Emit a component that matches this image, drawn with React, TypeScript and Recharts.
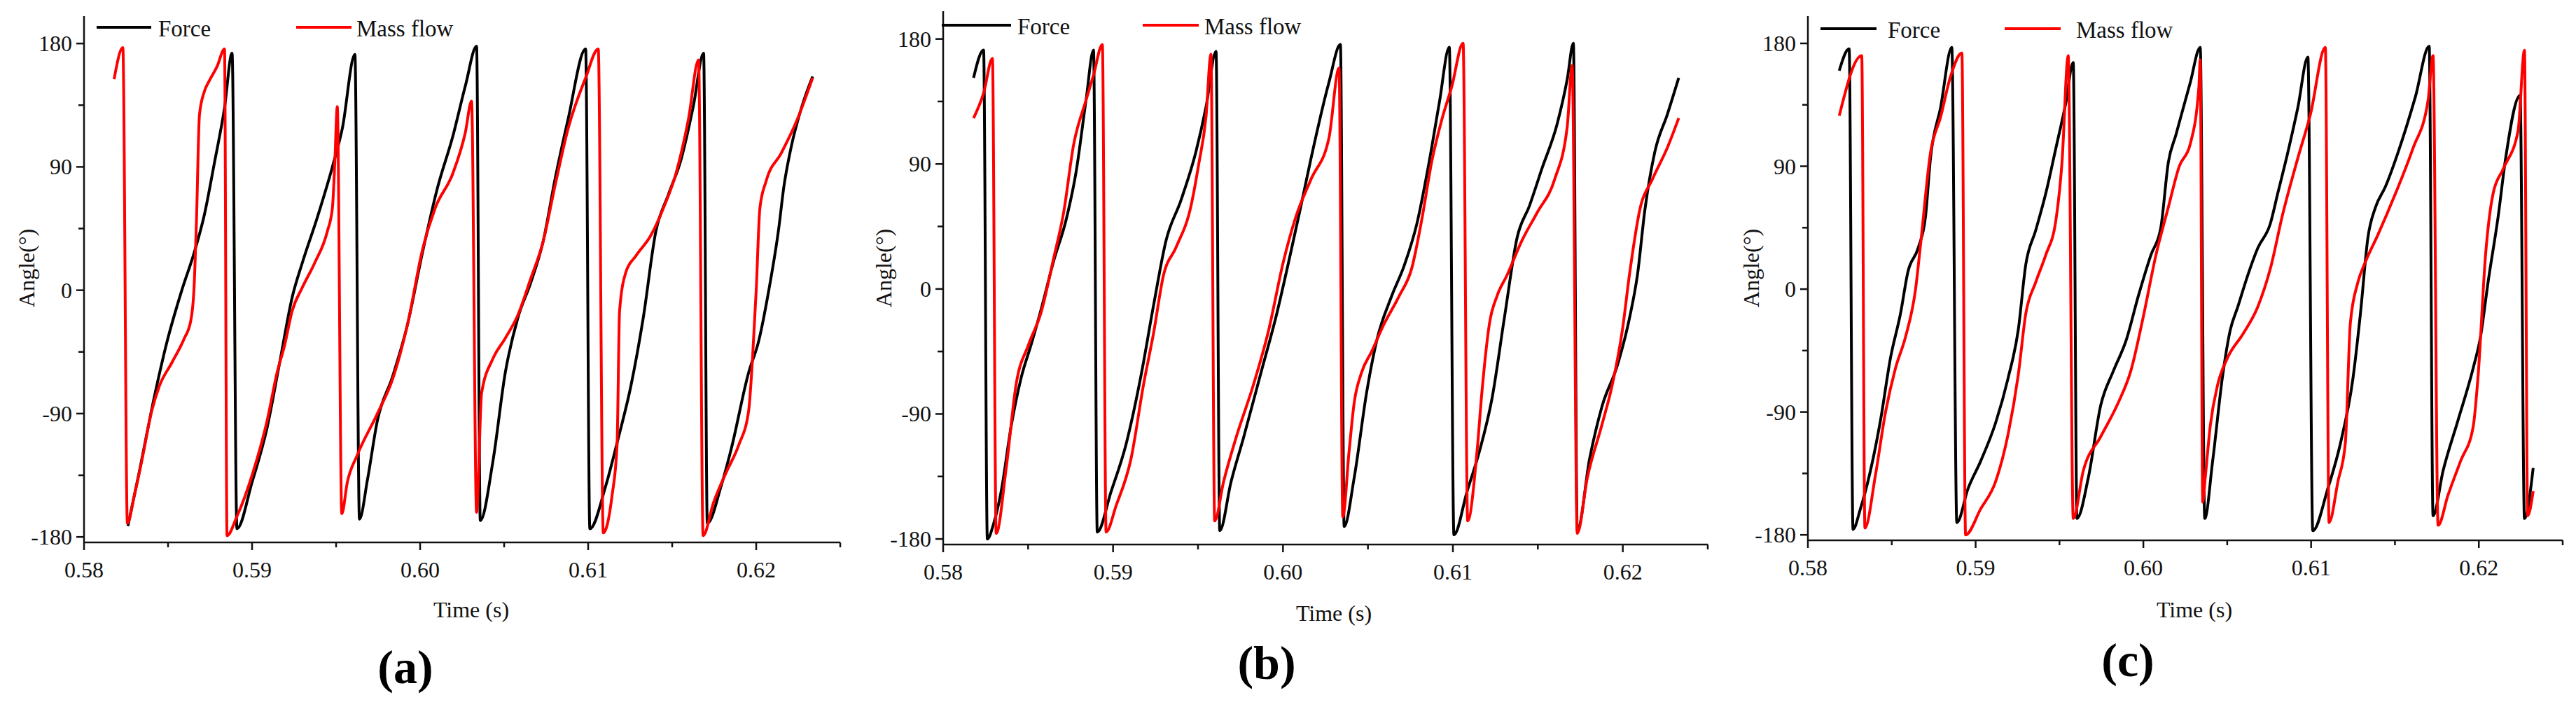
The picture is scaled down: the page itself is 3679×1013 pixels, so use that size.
import React from 'react';
import { LineChart, Line, XAxis, YAxis, Legend, Label } from 'recharts';

// [time (s), angle (deg)]
const forceA: [number, number][] = [
  [0.58261, -172], [0.58328, -133], [0.58418, -78], [0.58493, -38], [0.58582, 0], [0.58657, 28],
  [0.58716, 55], [0.58776, 93], [0.58836, 133], [0.58881, 173], [0.5891, -174], [0.59, -140],
  [0.5909, -100], [0.59164, -53], [0.59239, -5], [0.59299, 20], [0.59388, 53], [0.59478, 90],
  [0.59537, 118], [0.59612, 172], [0.59639, -167], [0.59687, -138], [0.59746, -95], [0.59836, -63],
  [0.59925, -25], [0.60015, 28], [0.60104, 75], [0.60194, 112], [0.60271, 150], [0.60336, 178],
  [0.60358, -168], [0.60433, -125], [0.60507, -60], [0.60582, -20], [0.60657, 5], [0.60731, 35],
  [0.60806, 83], [0.60881, 125], [0.60985, 176], [0.6101, -174], [0.61104, -143], [0.61179, -108],
  [0.61254, -70], [0.61328, -20], [0.61403, 43], [0.61478, 70], [0.61552, 95], [0.61627, 135],
  [0.61687, 173], [0.61709, -170], [0.61791, -143], [0.61851, -116], [0.61955, -60], [0.62015, -37],
  [0.62075, 0], [0.62134, 45], [0.62164, 75], [0.62209, 105], [0.62269, 133], [0.62336, 156],
];

const massA: [number, number][] = [
  [0.58179, 154], [0.58231, 177], [0.58258, -170], [0.58299, -150], [0.58343, -125], [0.58403, -88],
  [0.58448, -70], [0.58522, -53], [0.58597, -35], [0.58634, -23], [0.58654, 0], [0.58669, 50],
  [0.58687, 128], [0.58716, 145], [0.58746, 153], [0.58791, 163], [0.58836, 176], [0.58851, -179],
  [0.5891, -165], [0.59, -135], [0.5909, -95], [0.59149, -60], [0.59194, -40], [0.59239, -15],
  [0.59299, 2], [0.59373, 20], [0.59448, 43], [0.59478, 60], [0.59493, 95], [0.59507, 134],
  [0.59534, -163], [0.59567, -140], [0.59627, -120], [0.59746, -90], [0.59836, -65], [0.59925, -25],
  [0.60015, 30], [0.6009, 60], [0.60194, 85], [0.60269, 115], [0.60306, 138], [0.60336, -162],
  [0.60366, -75], [0.60433, -50], [0.60507, -35], [0.60582, -18], [0.60657, 8], [0.60731, 35],
  [0.60806, 78], [0.60881, 118], [0.60985, 155], [0.6106, 176], [0.6109, -177], [0.61142, -150],
  [0.61172, -113], [0.61187, -15], [0.61224, 13], [0.61284, 25], [0.61373, 40], [0.61448, 60],
  [0.61522, 85], [0.61597, 125], [0.61657, 168], [0.61684, -179], [0.61746, -155], [0.61821, -133],
  [0.61896, -113], [0.61955, -88], [0.61978, -50], [0.62, 0], [0.62022, 60], [0.6206, 80],
  [0.62149, 100], [0.62239, 123], [0.62336, 155],
];

const forceB: [number, number][] = [
  [0.58179, 152], [0.58238, 172], [0.5826, -180], [0.58297, -169], [0.58341, -146], [0.584, -99],
  [0.58459, -64], [0.58518, -40], [0.58576, -15], [0.5865, 20], [0.58724, 50], [0.58782, 84],
  [0.58841, 136], [0.58885, 172], [0.58907, -175], [0.58988, -146], [0.59076, -112], [0.59165, -62],
  [0.59238, -12], [0.59312, 35], [0.594, 64], [0.59488, 99], [0.59547, 131], [0.59606, 171],
  [0.59628, -174], [0.59694, -139], [0.59768, -107], [0.59871, -60], [0.59959, -20], [0.60047, 27],
  [0.60106, 60], [0.60165, 94], [0.60271, 149], [0.60338, 176], [0.6036, -171], [0.60419, -136],
  [0.60493, -74], [0.60552, -37], [0.6064, -5], [0.60714, 17], [0.60788, 47], [0.60861, 92],
  [0.6092, 134], [0.60979, 174], [0.61006, -177], [0.61083, -146], [0.61156, -117], [0.6123, -79],
  [0.61304, -20], [0.61378, 37], [0.61451, 60], [0.61525, 87], [0.61614, 119], [0.61673, 151],
  [0.61709, 177], [0.61732, -174], [0.61805, -122], [0.61879, -84], [0.61968, -55], [0.62041, -20],
  [0.62086, 10], [0.6213, 57], [0.62189, 99], [0.62263, 126], [0.62329, 152],
];

const massB: [number, number][] = [
  [0.58179, 123], [0.58238, 141], [0.5829, 166], [0.58312, -176], [0.58371, -129], [0.58429, -69],
  [0.58503, -40], [0.58576, -17], [0.5865, 22], [0.58709, 55], [0.58768, 104], [0.58841, 136],
  [0.58885, 154], [0.58937, 176], [0.58959, -175], [0.59018, -156], [0.59106, -122], [0.59179, -69],
  [0.59238, -32], [0.59297, 10], [0.59371, 30], [0.59459, 60], [0.59503, 89], [0.59547, 124],
  [0.59576, 169], [0.59598, -167], [0.5965, -139], [0.59724, -107], [0.59826, -69], [0.59915, -30],
  [0.60003, 20], [0.60076, 52], [0.60165, 79], [0.60271, 109], [0.6033, 159], [0.60352, -164],
  [0.60389, -117], [0.60419, -82], [0.60463, -60], [0.60522, -45], [0.60596, -25], [0.60684, -5],
  [0.60758, 15], [0.60817, 50], [0.60876, 92], [0.60935, 122], [0.60994, 146], [0.6106, 177],
  [0.61087, -167], [0.61142, -117], [0.61171, -74], [0.61215, -25], [0.6126, -5], [0.61319, 10],
  [0.61407, 35], [0.61496, 55], [0.61599, 79], [0.61673, 117], [0.61702, 161], [0.61732, -176],
  [0.61791, -136], [0.61879, -97], [0.61938, -69], [0.61997, -30], [0.62041, 12], [0.621, 57],
  [0.62174, 79], [0.62263, 102], [0.62329, 123],
];

const forceC: [number, number][] = [
  [0.58187, 160], [0.58246, 176], [0.58269, -176], [0.58313, -161], [0.58373, -133], [0.58433, -96],
  [0.58493, -50], [0.58552, -18], [0.58597, 13], [0.58657, 30], [0.58701, 53], [0.58731, 96],
  [0.58791, 133], [0.58858, 177], [0.58888, -171], [0.58955, -146], [0.5903, -126], [0.59119, -98],
  [0.59194, -65], [0.59254, -30], [0.59299, 18], [0.59358, 43], [0.59418, 70], [0.59478, 103],
  [0.59537, 136], [0.59582, 166], [0.59604, -168], [0.59672, -138], [0.59746, -85], [0.59821, -60],
  [0.59896, -38], [0.5997, -5], [0.60045, 25], [0.60104, 45], [0.60149, 93], [0.60194, 113],
  [0.60279, 151], [0.60339, 177], [0.60366, -168], [0.60413, -126], [0.60473, -63], [0.60518, -30],
  [0.60563, -13], [0.60622, 10], [0.60682, 30], [0.60757, 48], [0.60801, 70], [0.60861, 100],
  [0.60921, 133], [0.60981, 170], [0.6101, -177], [0.611, -146], [0.61175, -113], [0.6125, -65],
  [0.61294, -18], [0.61339, 38], [0.61384, 60], [0.61443, 75], [0.61518, 100], [0.61622, 141],
  [0.61704, 178], [0.61727, -166], [0.61787, -133], [0.61876, -96], [0.61966, -58], [0.6201, -35],
  [0.62055, 5], [0.62115, 53], [0.6216, 96], [0.62246, 142], [0.62272, -168], [0.62324, -131],
];

const massC: [number, number][] = [
  [0.58187, 127], [0.58321, 171], [0.5834, -175], [0.58403, -136], [0.58463, -90], [0.58522, -58],
  [0.58582, -35], [0.58642, 0], [0.58672, 33], [0.58731, 100], [0.58791, 126], [0.58851, 156],
  [0.58918, 173], [0.5894, -180], [0.5903, -161], [0.59119, -141], [0.59194, -106], [0.59254, -63],
  [0.59299, -18], [0.59358, 5], [0.59418, 25], [0.59478, 50], [0.59515, 93], [0.59552, 171],
  [0.59582, -168], [0.59642, -133], [0.59746, -108], [0.59851, -83], [0.59925, -60], [0.6, -20],
  [0.60075, 25], [0.60149, 60], [0.60214, 90], [0.60279, 106], [0.60331, 148], [0.60339, 168],
  [0.60354, -156], [0.60369, -138], [0.60399, -100], [0.60443, -70], [0.60503, -50], [0.60593, -33],
  [0.60682, -13], [0.60757, 15], [0.60831, 55], [0.60921, 96], [0.60996, 128], [0.61085, 177],
  [0.61107, -171], [0.6116, -141], [0.61204, -113], [0.61234, -25], [0.61279, 5], [0.61324, 20],
  [0.61399, 40], [0.61503, 70], [0.61607, 103], [0.61697, 138], [0.61727, 171], [0.61757, -173],
  [0.61816, -151], [0.61891, -126], [0.61966, -101], [0.61996, -63], [0.6204, 25], [0.62085, 70],
  [0.62145, 88], [0.62234, 116], [0.62272, 175], [0.62291, -166], [0.62324, -148],
];

const timeTicks = [0.58, 0.585, 0.59, 0.595, 0.6, 0.605, 0.61, 0.615, 0.62, 0.625];
const angleTicks = [-180, -135, -90, -45, 0, 45, 90, 135, 180];
const seriesNames = ['Force', 'Mass flow'];
const panelTags = ['(a)', '(b)', '(c)'];

const FONT = '"Liberation Serif", "Times New Roman", serif';
const INK = '#111';

const panels = [
  { left: 0, width: 1230, yw: 120, top: 23, bottom: 775, right: 30, force: forceA, mass: massA,
    legendY: 39, legend: [[18, 96, 106], [303, 382, 389]], timeX: 673, timeY: 882, tagY: 976, angleX: 38 },
  { left: 1230, width: 1230, yw: 117, top: 16, bottom: 778, right: 21, force: forceB, mass: massB,
    legendY: 36, legend: [[-2, 97, 106], [285, 365, 373]], timeX: 675, timeY: 887, tagY: 970, angleX: 32 },
  { left: 2460, width: 1219, yw: 122, top: 23, bottom: 772, right: 19, force: forceC, mass: massC,
    legendY: 41, legend: [[18, 98, 114], [281, 361, 383]], timeX: 674, timeY: 882, tagY: 966, angleX: 41 },
];

const toPoints = (arr: [number, number][]) => arr.map(([t, v]) => ({ t, v }));

const XTick = ({ x, y, payload }: any) => {
  const v = payload.value;
  const major = Math.abs(v * 100 - Math.round(v * 100)) < 1e-6;
  return (
    <g>
      <line x1={x} x2={x} y1={y} y2={y + (major ? 11 : 7)} stroke={INK} strokeWidth={2.5} />
      {major && (
        <text x={x} y={y + 50} textAnchor="middle" fontSize={32} fontFamily={FONT} fill={INK}>
          {v.toFixed(2)}
        </text>
      )}
    </g>
  );
};

const YTick = ({ x, y, payload }: any) => {
  const v = payload.value;
  const major = v % 90 === 0;
  return (
    <g>
      <line x1={x} x2={x - (major ? 11 : 8)} y1={y} y2={y} stroke={INK} strokeWidth={2.5} />
      {major && (
        <text x={x - 17} y={y + 11} textAnchor="end" fontSize={32} fontFamily={FONT} fill={INK}>
          {v}
        </text>
      )}
    </g>
  );
};

const Panel = ({ cfg, tag }: any) => {
  const axisH = 100;
  const legendContent = (props: any) => {
    const items = props.payload || [];
    return (
      <svg width={cfg.width} height={70} style={{ display: 'block' }}>
        {items.map((it: any, i: number) => {
          const [x1, x2, tx] = cfg.legend[i];
          return (
            <g key={i}>
              <line x1={cfg.yw + x1} x2={cfg.yw + x2} y1={cfg.legendY} y2={cfg.legendY}
                stroke={it.color} strokeWidth={4} />
              <text x={cfg.yw + tx} y={cfg.legendY + 13} fontSize={33} fontFamily={FONT} fill={INK}>
                {it.value}
              </text>
            </g>
          );
        })}
      </svg>
    );
  };

  return (
    <div style={{ position: 'absolute', left: cfg.left, top: 0 }}>
      <LineChart
        width={cfg.width}
        height={1013}
        margin={{ top: cfg.top, right: cfg.right, left: 0, bottom: 1013 - cfg.bottom - axisH }}
      >
        <XAxis
          dataKey="t"
          type="number"
          domain={[0.58, 0.625]}
          ticks={timeTicks}
          interval={0}
          height={axisH}
          tickSize={0}
          tickMargin={0}
          tickLine={false}
          tick={<XTick />}
          axisLine={{ stroke: INK, strokeWidth: 2.5 }}
        >
          <Label
            content={() => (
              <g>
                <text x={cfg.timeX} y={cfg.timeY} textAnchor="middle" fontSize={32} fontFamily={FONT} fill={INK}>
                  Time (s)
                </text>
                <text x={579} y={cfg.tagY} textAnchor="middle" fontSize={68} fontWeight="bold" fontFamily={FONT} fill="#000">
                  {tag}
                </text>
              </g>
            )}
          />
        </XAxis>
        <YAxis
          type="number"
          domain={[-184, 200]}
          ticks={angleTicks}
          interval={0}
          width={cfg.yw}
          tickSize={0}
          tickMargin={0}
          tickLine={false}
          tick={<YTick />}
          axisLine={{ stroke: INK, strokeWidth: 2.5 }}
        >
          <Label
            content={() => (
              <text
                x={cfg.angleX}
                y={383}
                transform={`rotate(-90 ${cfg.angleX} 383)`}
                textAnchor="middle"
                dominantBaseline="central"
                fontSize={32}
                fontFamily={FONT}
                fill={INK}
              >
                Angle(°)
              </text>
            )}
          />
        </YAxis>
        <Legend
          verticalAlign="middle"
          align="center"
          layout="horizontal"
          content={legendContent}
          wrapperStyle={{ left: 0, top: 0, width: cfg.width, height: 70 }}
        />
        <Line
          data={toPoints(cfg.force)}
          dataKey="v"
          name={seriesNames[0]}
          type="monotoneX"
          stroke="#000000"
          strokeWidth={4}
          dot={false}
          activeDot={false}
          isAnimationActive={false}
        />
        <Line
          data={toPoints(cfg.mass)}
          dataKey="v"
          name={seriesNames[1]}
          type="monotoneX"
          stroke="#ff0000"
          strokeWidth={4}
          dot={false}
          activeDot={false}
          isAnimationActive={false}
        />
      </LineChart>
    </div>
  );
}

export default function App() {
  return (
    <div style={{ position: 'absolute', left: 0, top: 0, width: 3679, height: 1013, background: '#fff', overflow: 'hidden' }}>
      {panels.map((p, i) => (
        <Panel key={i} cfg={p} tag={panelTags[i]} />
      ))}
    </div>
  );
}
